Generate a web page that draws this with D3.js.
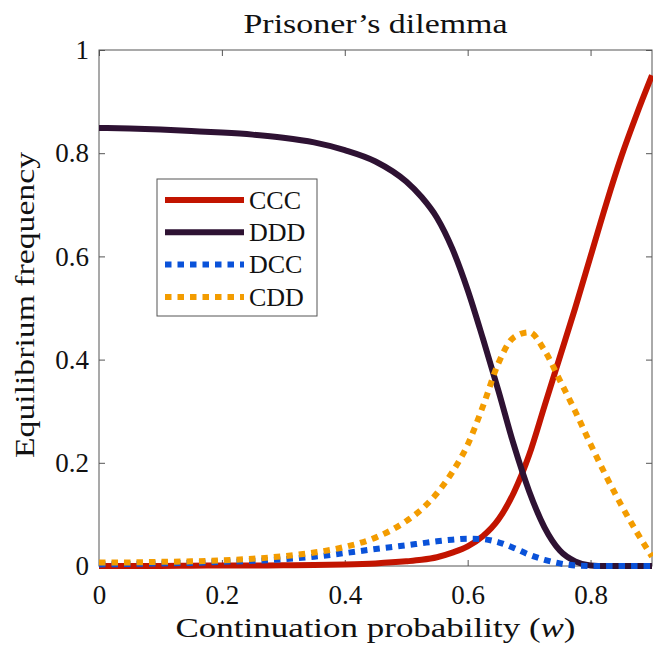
<!DOCTYPE html>
<html>
<head>
<meta charset="utf-8">
<script src="https://cdn.jsdelivr.net/npm/d3@7"></script>
<style>
    body { margin: 0; background: white; }
    svg text { font-family: 'Liberation Serif', 'DejaVu Serif'; fill: #111; }
</style>
</head>
<body>
<div id="chart"></div>
<script>
// continuation probability grid
const w = [0, 0.05, 0.1, 0.15, 0.2, 0.25, 0.3, 0.35, 0.4, 0.45, 0.5, 0.525, 0.55, 0.575,
    0.6, 0.625, 0.65, 0.675, 0.7, 0.725, 0.75, 0.775, 0.8, 0.825, 0.85, 0.875, 0.9];

// equilibrium frequencies
const ccc = [0, 0, 0, 0.0005, 0.001, 0.001, 0.0015, 0.002, 0.003, 0.005, 0.009, 0.012, 0.017, 0.026,
    0.038, 0.058, 0.09, 0.142, 0.215, 0.31, 0.405, 0.50, 0.60, 0.70, 0.793, 0.875, 0.951];
const ddd = [0.849, 0.848, 0.846, 0.843, 0.840, 0.836, 0.830, 0.821, 0.806, 0.784, 0.745, 0.715, 0.675, 0.615,
    0.535, 0.44, 0.34, 0.235, 0.145, 0.075, 0.03, 0.009, 0.001, 0, 0, 0, 0];
const dcc = [0.003, 0.004, 0.005, 0.006, 0.008, 0.010, 0.013, 0.018, 0.025, 0.033, 0.040, 0.044, 0.048, 0.051,
    0.053, 0.052, 0.046, 0.035, 0.022, 0.012, 0.005, 0.001, 0, 0, 0, 0, 0];
const cdd = [0.007, 0.007, 0.008, 0.009, 0.011, 0.014, 0.019, 0.026, 0.037, 0.055, 0.087, 0.110, 0.141, 0.182,
    0.235, 0.310, 0.393, 0.443, 0.453, 0.418, 0.360, 0.300, 0.236, 0.175, 0.118, 0.066, 0.018];

const seriesNames = ['CCC', 'DDD', 'DCC', 'CDD'];
const xTicks = [0, 0.2, 0.4, 0.6, 0.8];
const yTicks = [0, 0.2, 0.4, 0.6, 0.8, 1];

const styles = {
    CCC: { color: '#c21400', dash: null },
    DDD: { color: '#2e1233', dash: null },
    DCC: { color: '#0a52d9', dash: '6.5,6' },
    CDD: { color: '#f39c00', dash: '6.5,6' }
};

const serif = "'Liberation Serif', 'DejaVu Serif'";
const width = 653, height = 647;
const margin = { top: 50, right: 1, bottom: 81, left: 99 };
const innerW = width - margin.left - margin.right;
const innerH = height - margin.top - margin.bottom;

const series = [ccc, ddd, dcc, cdd].map((vals, i) => ({
    name: seriesNames[i],
    points: vals.map((v, j) => ({ x: w[j], y: v }))
}));

const x = d3.scaleLinear().domain([0, 0.9]).range([0, innerW]);
const y = d3.scaleLinear().domain([0, 1]).range([innerH, 0]);
const fmt = d => String(+d.toFixed(1));

const svg = d3.select('#chart')
    .append('svg')
        .attr('width', width)
        .attr('height', height)
        .attr('font-family', serif);

const graph = svg.append('g')
    .attr('transform', `translate(${margin.left},${margin.top})`);

// axes, ticks pointing inward
graph.append('g')
    .attr('transform', `translate(0,${innerH})`)
    .call(d3.axisBottom(x).tickValues(xTicks).tickFormat(fmt).tickSizeInner(-6).tickSizeOuter(0).tickPadding(19));
graph.append('g')
    .call(d3.axisTop(x).tickValues(xTicks).tickFormat('').tickSizeInner(-6).tickSizeOuter(0));
graph.append('g')
    .call(d3.axisLeft(y).tickValues(yTicks).tickFormat(fmt).tickSizeInner(-6).tickSizeOuter(0).tickPadding(10));
graph.append('g')
    .attr('transform', `translate(${innerW},0)`)
    .call(d3.axisRight(y).tickValues(yTicks).tickFormat('').tickSizeInner(-6).tickSizeOuter(0));

graph.selectAll('.domain').remove();
graph.selectAll('.tick line').attr('stroke', '#555');
graph.selectAll('g').attr('font-family', serif);
graph.selectAll('.tick text')
    .attr('font-size', 27)
    .attr('fill', '#111');

graph.append('rect')
    .attr('width', innerW)
    .attr('height', innerH)
    .attr('fill', 'none')
    .attr('stroke', '#555')
    .attr('stroke-width', 1);

// curves
const line = d3.line()
    .x(d => x(d.x))
    .y(d => y(d.y))
    .curve(d3.curveMonotoneX);

const plot = graph.append('g');
plot.selectAll('path')
    .data(series)
    .enter()
    .append('path')
        .attr('d', d => line(d.points))
        .attr('fill', 'none')
        .attr('stroke', d => styles[d.name].color)
        .attr('stroke-width', 6)
        .attr('stroke-dasharray', d => styles[d.name].dash);

// title and labels (stretched a bit to match the wider original typeface)
svg.append('text')
    .attr('x', margin.left + innerW / 2)
    .attr('y', 33)
    .attr('text-anchor', 'middle')
    .attr('font-size', 28)
    .attr('textLength', 264)
    .attr('lengthAdjust', 'spacingAndGlyphs')
    .text('Prisoner’s dilemma');

const xl = svg.append('text')
    .attr('x', margin.left + innerW / 2)
    .attr('y', 637)
    .attr('text-anchor', 'middle')
    .attr('font-size', 28)
    .attr('textLength', 400)
    .attr('lengthAdjust', 'spacingAndGlyphs');
xl.append('tspan').text('Continuation probability (');
xl.append('tspan').attr('font-style', 'italic').text('w');
xl.append('tspan').text(')');

svg.append('text')
    .attr('transform', 'translate(34,305) rotate(-90)')
    .attr('text-anchor', 'middle')
    .attr('font-size', 28)
    .attr('textLength', 306)
    .attr('lengthAdjust', 'spacingAndGlyphs')
    .text('Equilibrium frequency');

// legend
const legend = svg.append('g')
    .attr('transform', 'translate(157,179)');

legend.append('rect')
    .attr('width', 160)
    .attr('height', 137)
    .attr('fill', 'white')
    .attr('stroke', '#555')
    .attr('stroke-width', 1);

const items = legend.selectAll('g.item')
    .data(series)
    .enter()
    .append('g')
        .attr('class', 'item')
        .attr('transform', (d, i) => `translate(0,${21 + i * 32.3})`);

items.append('line')
    .attr('x1', 8)
    .attr('x2', 87)
    .attr('stroke', d => styles[d.name].color)
    .attr('stroke-width', 6)
    .attr('stroke-dasharray', d => styles[d.name].dash);

items.append('text')
    .attr('x', 92)
    .attr('dy', '0.34em')
    .attr('font-size', 26)
    .text(d => d.name);
</script>
</body>
</html>
